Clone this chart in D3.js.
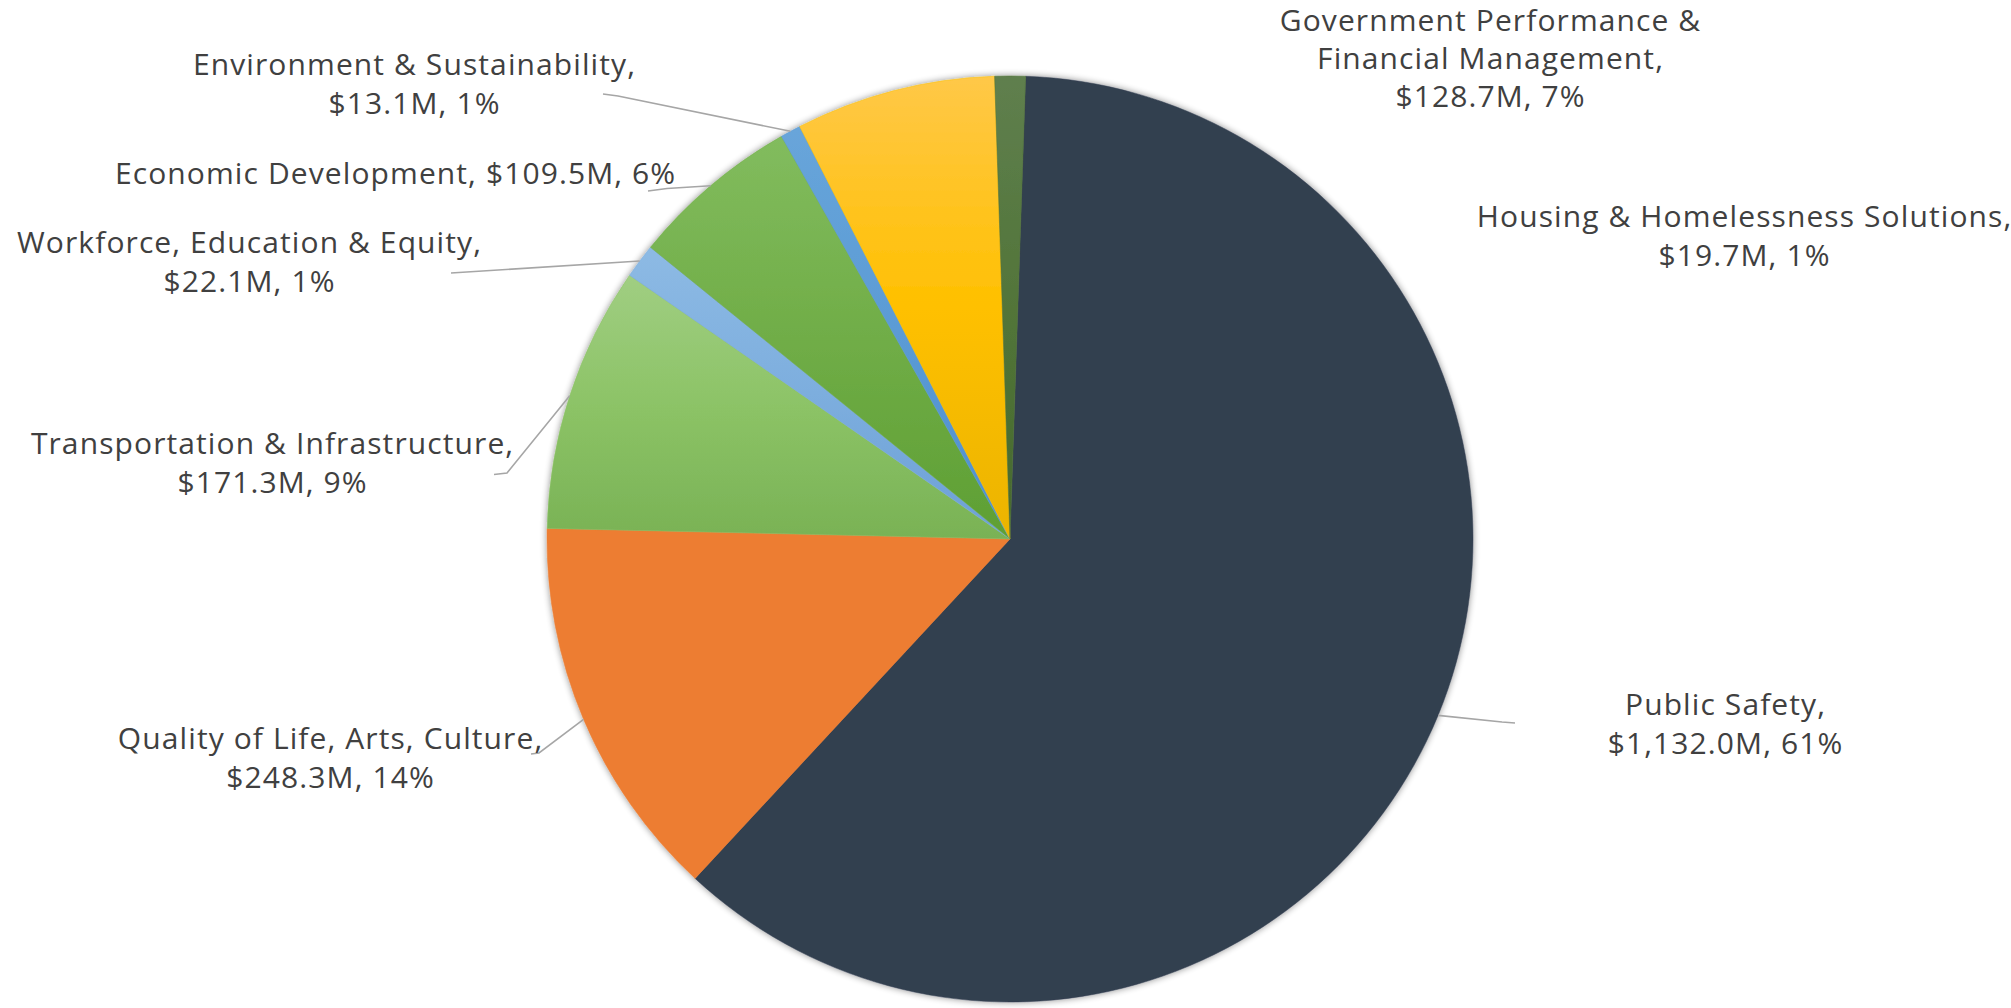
<!DOCTYPE html>
<html>
<head>
<meta charset="utf-8">
<script src="https://cdn.jsdelivr.net/npm/d3@7"></script>
<style>
  html, body { margin: 0; padding: 0; background: #ffffff; }
  svg { display: block; }
</style>
</head>
<body>
<svg id="chart" width="2011" height="1008"></svg>
<script>
// ---- data ----
const categories = [
  "Public Safety",
  "Quality of Life, Arts, Culture",
  "Transportation & Infrastructure",
  "Workforce, Education & Equity",
  "Economic Development",
  "Environment & Sustainability",
  "Government Performance & Financial Management",
  "Housing & Homelessness Solutions"
];
const values = [1132.0, 248.3, 171.3, 22.1, 109.5, 13.1, 128.7, 19.7];
const percentLabels = ["61%", "14%", "9%", "1%", "6%", "1%", "7%", "1%"];

// ---- styles ----
const colors = [
  ["#333F50", "#333F50", "#333F50"],
  ["#ED7D31", "#ED7D31", "#ED7D31"],
  ["#A0CE82", "#8CC366", "#79B255"],
  ["#8DBAE4", "#7DAEDE", "#6CA0D6"],
  ["#82BC5E", "#70AD47", "#5E9F33"],
  ["#68A5DA", "#5B9BD5", "#4E8FCF"],
  ["#FFC848", "#FFC000", "#EBB400"],
  ["#5F7F4E", "#527539", "#46692D"]
];

// ---- layout (label placement) ----
const labelLayout = [
  { x: 1725, y: 703, lines: "nameValue", leader: [[1515, 723], [1502, 722]] },
  { x: 330, y: 737, lines: "nameValue", leader: [[531, 754], [539, 753]] },
  { x: 272, y: 442, lines: "nameValue", leader: [[494, 474.5], [507, 473]] },
  { x: 249, y: 241, lines: "nameValue", leader: [[451, 273]] },
  { x: 395, y: 172, lines: "single", leader: [[648, 191], [667, 188.5]] },
  { x: 414, y: 63, lines: "nameValue", leader: [[603, 94], [618, 96]] },
  { x: 1490, y: 19, lines: "split&", leader: null, gap: 38 },
  { x: 1744, y: 215, lines: "nameValue", leader: null }
];

const W = 2011, H = 1008;
const cx = 1010, cy = 539, R = 463;
const lineGap = 39.5;
const fontFamily = "'Open Sans', 'DejaVu Sans', sans-serif";
const fontSize = 30;
const letterSpacing = 1.1;

const svg = d3.select("#chart");
const defs = svg.append("defs");

const shadow = defs.append("filter").attr("id", "shadow")
  .attr("x", "-10%").attr("y", "-10%").attr("width", "120%").attr("height", "120%");
shadow.append("feGaussianBlur").attr("in", "SourceAlpha").attr("stdDeviation", 3.5).attr("result", "b");
shadow.append("feComponentTransfer").attr("in", "b").attr("result", "s")
  .append("feFuncA").attr("type", "linear").attr("slope", 0.45);
const merge = shadow.append("feMerge");
merge.append("feMergeNode").attr("in", "s");
merge.append("feMergeNode").attr("in", "SourceGraphic");

colors.forEach((c, i) => {
  const g = defs.append("linearGradient").attr("id", "grad" + i)
    .attr("x1", 0).attr("y1", 0).attr("x2", 0).attr("y2", 1);
  g.append("stop").attr("offset", "0%").attr("stop-color", c[0]);
  g.append("stop").attr("offset", "50%").attr("stop-color", c[1]);
  g.append("stop").attr("offset", "100%").attr("stop-color", c[2]);
});

const startAngle = 1.94 * Math.PI / 180;
const pie = d3.pie().sort(null).value(d => d.value)
  .startAngle(startAngle).endAngle(startAngle + 2 * Math.PI);

const data = categories.map((name, i) => ({ name, value: values[i], pct: percentLabels[i], i }));
const arcs = pie(data);

const arc = d3.arc().innerRadius(0).outerRadius(R);
const edge = d3.arc().innerRadius(R).outerRadius(R);

const g = svg.append("g").attr("transform", `translate(${cx},${cy})`);
g.append("g").attr("filter", "url(#shadow)")
  .selectAll("path").data(arcs).join("path")
  .attr("d", arc)
  .attr("fill", d => `url(#grad${d.data.i})`)
  .attr("stroke", d => colors[d.data.i][1])
  .attr("stroke-width", 0.5);

// leader lines
const fmt = d3.format(",.1f");
svg.append("g").selectAll("path")
  .data(arcs.filter(d => labelLayout[d.data.i].leader))
  .join("path")
  .attr("fill", "none")
  .attr("stroke", "#A6A6A6")
  .attr("stroke-width", 1.6)
  .attr("d", d => {
    const pts = labelLayout[d.data.i].leader.slice();
    const c = edge.centroid(d);
    pts.push([cx + c[0], cy + c[1]]);
    return d3.line()(pts);
  });

// labels
function labelLines(d) {
  const L = labelLayout[d.i];
  const valueText = `$${fmt(d.value)}M, ${d.pct}`;
  if (L.lines === "single") return [`${d.name}, ${valueText}`];
  if (L.lines === "split&") {
    const k = d.name.indexOf("& ") + 1;
    return [d.name.slice(0, k), d.name.slice(k + 1) + ",", valueText];
  }
  return [d.name + ",", valueText];
}

const labels = svg.append("g")
  .attr("font-family", fontFamily)
  .attr("font-size", fontSize)
  .attr("letter-spacing", letterSpacing)
  .attr("fill", "#404040")
  .attr("text-anchor", "middle");

data.forEach(d => {
  const L = labelLayout[d.i];
  const gap = L.gap || lineGap;
  const t = labels.append("text");
  labelLines(d).forEach((line, k) => {
    t.append("tspan")
      .attr("x", L.x + letterSpacing / 2)
      .attr("y", L.y + k * gap)
      .attr("dominant-baseline", "central")
      .text(line);
  });
});
</script>
</body>
</html>
